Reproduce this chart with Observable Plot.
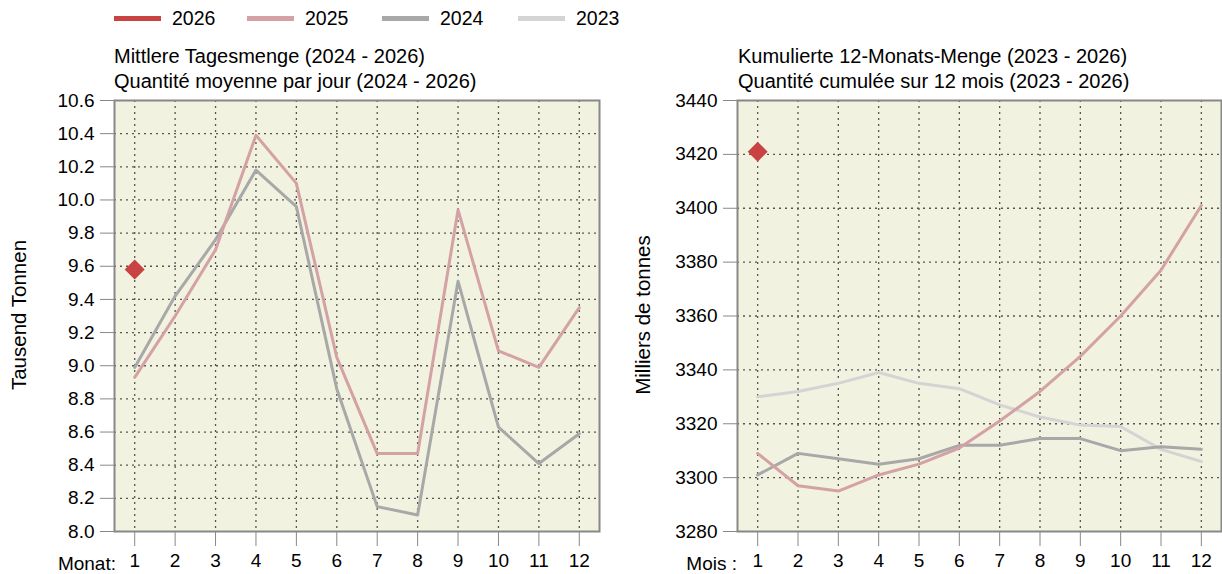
<!DOCTYPE html>
<html>
<head>
<meta charset="utf-8">
<script src="https://cdn.jsdelivr.net/npm/d3@7"></script>
<script src="https://cdn.jsdelivr.net/npm/@observablehq/plot@0.6"></script>
<style>
  html, body { margin: 0; padding: 0; background: #fff; }
  body { width: 1222px; height: 574px; position: relative; overflow: hidden;
         font-family: "Liberation Sans", Arial, sans-serif; color: #000; }
  .abs { position: absolute; white-space: nowrap; }
  .legend { top: 6px; left: 0; height: 24px; font-size: 19.5px; }
  .item { position: absolute; top: 0; line-height: 24px; }
  .sw { position: absolute; top: 10px; width: 47px; height: 5px; }
  .title { font-size: 20px; line-height: 25px; }
  .ylab { font-size: 20.5px; transform: translate(-50%, -50%) rotate(-90deg); }
  .xlab { font-size: 19px; text-align: right; line-height: 22px; }
  svg g[aria-label="x-axis tick"], svg g[aria-label="y-axis tick"] { stroke: #888; }
</style>
</head>
<body>
<div id="legend" class="abs legend"></div>
<div class="abs title" style="left:114px; top:44px;">Mittlere Tagesmenge (2024 - 2026)<br>Quantité moyenne par jour (2024 - 2026)</div>
<div class="abs title" style="left:738px; top:44px;">Kumulierte 12-Monats-Menge (2023 - 2026)<br>Quantité cumulée sur 12 mois (2023 - 2026)</div>
<div class="abs ylab" style="left:19px; top:315px;">Tausend Tonnen</div>
<div class="abs ylab" style="left:643px; top:315px;">Milliers de tonnes</div>
<div class="abs xlab" style="right:1106px; top:553px;">Monat:</div>
<div class="abs xlab" style="right:485px; top:553px;">Mois :</div>
<div id="left" class="abs" style="left:0; top:90px;"></div>
<div id="right" class="abs" style="left:610px; top:90px;"></div>
<script>
// ---- data ----
const months = [1, 2, 3, 4, 5, 6, 7, 8, 9, 10, 11, 12];
const legendYears = ["2026", "2025", "2024", "2023"];
const yearColors = ["#c94342", "#d4a1a4", "#a8a8a8", "#d4d4d4"];

// Mittlere Tagesmenge (Tausend Tonnen)
const avg2026 = [9.58];
const avg2025 = [8.93, 9.30, 9.70, 10.39, 10.10, 9.05, 8.47, 8.47, 9.94, 9.09, 8.99, 9.35];
const avg2024 = [8.99, 9.42, 9.76, 10.18, 9.96, 8.86, 8.15, 8.10, 9.51, 8.63, 8.41, 8.59];
const avgTicks = [8.0, 8.2, 8.4, 8.6, 8.8, 9.0, 9.2, 9.4, 9.6, 9.8, 10.0, 10.2, 10.4, 10.6];

// Kumulierte 12-Monats-Menge (Milliers de tonnes)
const cum2026 = [3421];
const cum2025 = [3309, 3297, 3295, 3301, 3305, 3311, 3321, 3332, 3345, 3360, 3377, 3401];
const cum2024 = [3301, 3309, 3307, 3305, 3307, 3312, 3312, 3314.5, 3314.5, 3310, 3311.5, 3310.5];
const cum2023 = [3330, 3332, 3335, 3339, 3335, 3333, 3327, 3322.5, 3319.5, 3319, 3310.5, 3306];
const cumTicks = [3280, 3300, 3320, 3340, 3360, 3380, 3400, 3420, 3440];

// ---- legend ----
const legend = document.getElementById("legend");
const legendX = [114, 247, 382, 518];
legendYears.forEach((yr, i) => {
  const sw = document.createElement("div");
  sw.className = "sw";
  sw.style.left = legendX[i] + "px";
  sw.style.background = yearColors[i];
  legend.appendChild(sw);
  const t = document.createElement("div");
  t.className = "item";
  t.style.left = (legendX[i] + 58) + "px";
  t.textContent = yr;
  legend.appendChild(t);
});

const colorOf = Object.fromEntries(legendYears.map((y, i) => [y, yearColors[i]]));
const rows = (vals, year) => vals.map((v, i) => ({month: months[i], value: v, year}));

function panel({width, marginLeft, marginRight, domain, ticks, fmt, series, point}) {
  const inner = ticks.filter(t => t !== domain[0] && t !== domain[1]);
  return Plot.plot({
    width, height: 484,
    marginLeft, marginRight, marginTop: 10, marginBottom: 43,
    style: {fontFamily: "'Liberation Sans', Arial, sans-serif", fontSize: "19px", background: "transparent", color: "#000"},
    x: {domain: [0.5, 12.5]},
    y: {domain},
    marks: [
      Plot.frame({fill: "#f2f2e1", stroke: null}),
      Plot.gridX(months, {stroke: "#555", strokeOpacity: 1, strokeDasharray: "2,4", strokeWidth: 1.3}),
      Plot.gridY(inner, {stroke: "#555", strokeOpacity: 1, strokeDasharray: "2,4", strokeWidth: 1.3}),
      ...series.map(s => Plot.line(rows(s.values, s.year), {x: "month", y: "value", stroke: colorOf[s.year], strokeWidth: 3})),
      Plot.dot(rows(point, "2026"), {x: "month", y: "value", symbol: "diamond2", r: 9, fill: colorOf["2026"], stroke: null}),
      Plot.frame({stroke: "#888", strokeWidth: 2}),
      Plot.axisX(months, {tickSize: 15, tickPadding: 7, label: null, fontSize: 19}),
      Plot.axisY(ticks, {tickSize: 14, tickPadding: 6, label: null, tickFormat: fmt, fontSize: 19})
    ]
  });
}

document.getElementById("left").appendChild(panel({
  width: 610, marginLeft: 114, marginRight: 11,
  domain: [8.0, 10.6], ticks: avgTicks, fmt: d => d.toFixed(1),
  series: [{year: "2024", values: avg2024}, {year: "2025", values: avg2025}],
  point: avg2026
}));

document.getElementById("right").appendChild(panel({
  width: 612, marginLeft: 127, marginRight: 1,
  domain: [3280, 3440], ticks: cumTicks, fmt: d => String(d),
  series: [{year: "2023", values: cum2023}, {year: "2024", values: cum2024}, {year: "2025", values: cum2025}],
  point: cum2026
}));
</script>
</body>
</html>
